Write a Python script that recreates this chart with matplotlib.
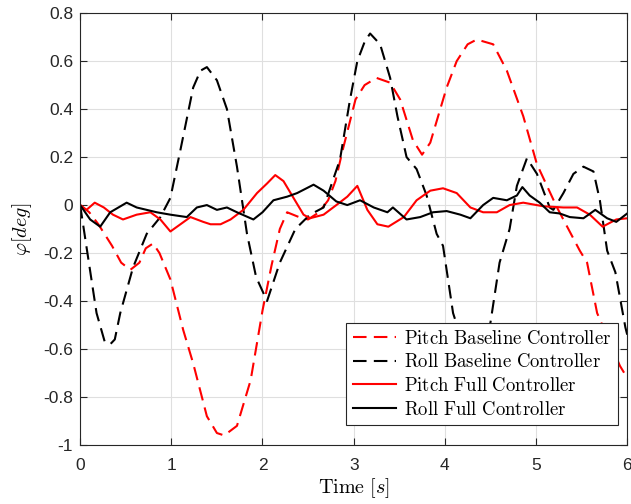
import matplotlib

matplotlib.use("Agg")

import matplotlib.pyplot as plt


# ==================================================
# DATA
# ==================================================

pitch_base_t = [0.0, 0.1, 0.2, 0.35, 0.45, 0.55, 0.65, 0.72, 0.8, 0.87, 0.99,
                1.13, 1.24, 1.39, 1.5, 1.58, 1.72, 1.87, 2.0, 2.1, 2.19, 2.27,
                2.4, 2.5, 2.62, 2.72, 2.8, 2.88, 3.02, 3.12, 3.25, 3.4, 3.51,
                3.65, 3.75, 3.84, 4.02, 4.13, 4.25, 4.35, 4.53, 4.68, 4.86,
                5.01, 5.23, 5.48, 5.56, 5.67, 5.92, 6.0]
pitch_base = [0.0, -0.03, -0.08, -0.17, -0.24, -0.27, -0.24, -0.18, -0.16,
              -0.2, -0.31, -0.52, -0.66, -0.88, -0.95, -0.96, -0.92, -0.73,
              -0.44, -0.25, -0.1, -0.03, -0.05, -0.06, -0.03, 0.02, 0.1, 0.23,
              0.44, 0.5, 0.53, 0.51, 0.44, 0.27, 0.21, 0.26, 0.49, 0.6, 0.67,
              0.69, 0.67, 0.56, 0.37, 0.17, -0.01, -0.19, -0.24, -0.45, -0.67,
              -0.72]

roll_base_t = [0.0, 0.08, 0.18, 0.27, 0.33, 0.38, 0.44, 0.58, 0.73, 0.88,
               0.99, 1.1, 1.24, 1.32, 1.39, 1.5, 1.61, 1.72, 1.83, 1.93, 2.05,
               2.19, 2.36, 2.52, 2.67, 2.85, 2.96, 3.04, 3.12, 3.18, 3.29, 3.4,
               3.48, 3.58, 3.69, 3.8, 3.91, 3.98, 4.09, 4.2, 4.3, 4.4, 4.5,
               4.6, 4.71, 4.79, 4.9, 5.01, 5.15, 5.19, 5.3, 5.41, 5.52, 5.63,
               5.7, 5.78, 5.87, 5.98, 6.0]
roll_base = [0.0, -0.2, -0.45, -0.57, -0.58, -0.56, -0.45, -0.26, -0.12,
             -0.05, 0.03, 0.23, 0.49, 0.56, 0.575, 0.52, 0.4, 0.16, -0.12,
             -0.3, -0.4, -0.24, -0.1, -0.04, -0.01, 0.19, 0.44, 0.6, 0.68,
             0.715, 0.67, 0.53, 0.37, 0.2, 0.15, 0.04, -0.12, -0.17, -0.45,
             -0.58, -0.63, -0.6, -0.49, -0.24, -0.1, 0.08, 0.195, 0.13, -0.01,
             -0.02, 0.05, 0.13, 0.16, 0.14, 0.02, -0.19, -0.28, -0.51, -0.54]

pitch_full_t = [0.0, 0.07, 0.16, 0.26, 0.36, 0.47, 0.62, 0.77, 0.88, 0.99,
                1.1, 1.21, 1.35, 1.43, 1.54, 1.65, 1.79, 1.94, 2.05, 2.14,
                2.23, 2.34, 2.45, 2.52, 2.67, 2.81, 2.93, 3.04, 3.15, 3.26,
                3.38, 3.55, 3.69, 3.84, 3.98, 4.13, 4.28, 4.42, 4.57, 4.71,
                4.86, 5.08, 5.3, 5.45, 5.59, 5.73, 5.88, 6.0]
pitch_full = [0.0, -0.02, 0.01, -0.01, -0.04, -0.06, -0.04, -0.03, -0.06,
              -0.11, -0.08, -0.05, -0.07, -0.08, -0.08, -0.06, -0.02, 0.05,
              0.09, 0.125, 0.1, 0.03, -0.04, -0.055, -0.04, 0.0, 0.035, 0.08,
              -0.02, -0.08, -0.09, -0.05, 0.02, 0.06, 0.07, 0.05, -0.01,
              -0.03, -0.03, 0.0, 0.01, -0.005, -0.01, -0.01, -0.04, -0.09,
              -0.06, -0.055]

roll_full_t = [0.0, 0.11, 0.22, 0.33, 0.51, 0.62, 0.73, 0.84, 0.99, 1.17,
               1.28, 1.39, 1.5, 1.61, 1.72, 1.9, 2.0, 2.12, 2.27, 2.38, 2.56,
               2.67, 2.81, 2.93, 3.07, 3.22, 3.37, 3.43, 3.58, 3.73, 3.87,
               4.02, 4.17, 4.28, 4.42, 4.53, 4.68, 4.79, 4.85, 4.93, 5.04,
               5.15, 5.26, 5.37, 5.52, 5.65, 5.78, 5.88, 6.0]
roll_full = [0.0, -0.06, -0.09, -0.03, 0.01, -0.01, -0.02, -0.03, -0.04,
             -0.05, -0.01, 0.0, -0.02, -0.01, -0.03, -0.06, -0.03, 0.02, 0.035,
             0.05, 0.085, 0.06, 0.015, 0.0, 0.02, -0.01, -0.03, -0.01, -0.06,
             -0.05, -0.03, -0.025, -0.04, -0.055, 0.0, 0.03, 0.02, 0.04, 0.075,
             0.04, 0.01, -0.03, -0.035, -0.05, -0.055, -0.02, -0.055, -0.07,
             -0.035]

labels = [
    r"$\mathrm{Pitch\ Baseline\ Controller}$",
    r"$\mathrm{Roll\ Baseline\ Controller}$",
    r"$\mathrm{Pitch\ Full\ Controller}$",
    r"$\mathrm{Roll\ Full\ Controller}$",
]

x_ticks = [0, 1, 2, 3, 4, 5, 6]
y_ticks = [-1, -0.8, -0.6, -0.4, -0.2, 0, 0.2, 0.4, 0.6, 0.8]
y_tick_labels = ["-1", "-0.8", "-0.6", "-0.4", "-0.2", "0", "0.2",
                 "0.4", "0.6", "0.8"]


# ==================================================
# FIGURE
# ==================================================

plt.rcParams["font.family"] = ["Liberation Sans", "DejaVu Sans"]
plt.rcParams["mathtext.fontset"] = "cm"

fig = plt.figure(figsize=(6.31, 5.04), dpi=100)

ax = fig.add_axes([0.127, 0.117, 0.867, 0.857])

dash = (0, (6.5, 3.5))

ax.plot(pitch_base_t, pitch_base, color="#ff0000", linestyle=dash,
        linewidth=1.5, label=labels[0])
ax.plot(roll_base_t, roll_base, color="#000000", linestyle=dash,
        linewidth=1.5, label=labels[1])
ax.plot(pitch_full_t, pitch_full, color="#ff0000", linewidth=1.5,
        label=labels[2])
ax.plot(roll_full_t, roll_full, color="#000000", linewidth=1.5,
        label=labels[3])

ax.set_xlim(0, 6)
ax.set_ylim(-1, 0.8)

ax.set_xticks(x_ticks)
ax.set_yticks(y_ticks)
ax.set_yticklabels(y_tick_labels)

ax.grid(True, color="#dfdfdf", linewidth=0.8)
ax.set_axisbelow(True)

for side in ["top", "right", "bottom", "left"]:
    ax.spines[side].set_color("#262626")
    ax.spines[side].set_linewidth(0.8)

ax.tick_params(axis="both", direction="in", top=True, right=True,
               labelsize=12.5, colors="#262626", length=5, pad=5)
ax.tick_params(axis="x", pad=9)

ax.set_xlabel(r"$\mathrm{Time}\ [s]$", fontsize=14.5, labelpad=3)
ax.set_ylabel(r"$\varphi[deg]$", fontsize=14.5, labelpad=7)

leg = ax.legend(loc="lower right", fontsize=13.5, frameon=True,
                fancybox=False, framealpha=1, edgecolor="#262626",
                handlelength=2.3, handletextpad=0.45, borderpad=0.35,
                labelspacing=0.3, borderaxespad=0,
                bbox_to_anchor=(0.9835, 0.046))
leg.get_frame().set_linewidth(0.8)

fig.savefig("out.png", dpi=100)
plt.close(fig)
